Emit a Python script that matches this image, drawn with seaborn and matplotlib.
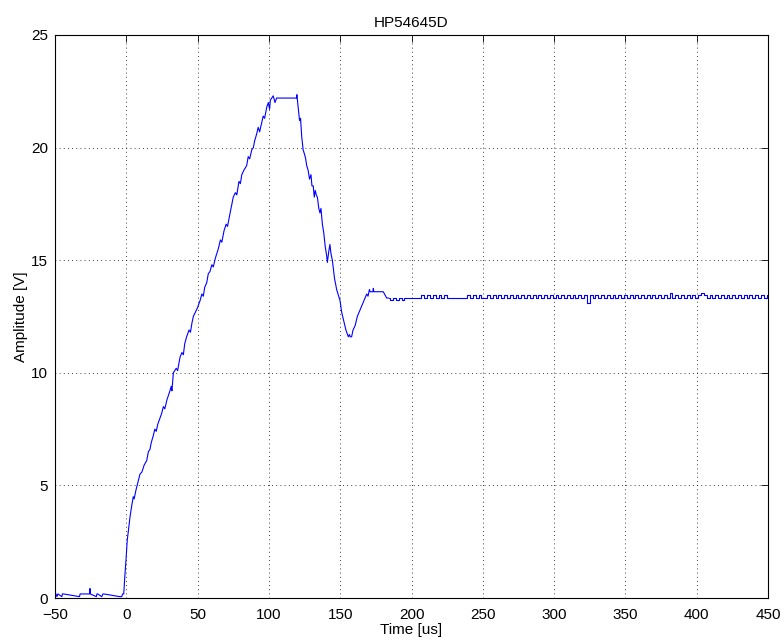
import numpy as np
import pandas as pd
import matplotlib
matplotlib.use("Agg")
import matplotlib.pyplot as plt
import seaborn as sns

# ---- data ----
baseline_t = [-50, -49.3, -48.6, -48, -45.2, -44.8, -44, -32.8, -32.4, -31.8, -25.8, -25.5, -25.2,
              -21, -20.6, -20, -17.2, -16.4, -15.8, -4.5, -3.2, -2.6, -1.8]
baseline_v = [0.06, 0.18, 0.06, 0.18, 0.06, 0.18, 0.18, 0.06, 0.18, 0.18, 0.18, 0.42, 0.18,
              0.06, 0.18, 0.18, 0.06, 0.18, 0.18, 0.06, 0.06, 0.18, 0.18]

ramp_t = [-1.0, -0.2, 0.7, 1.5, 2.6, 3.8, 4.9, 5.5, 6.8, 8.0, 9.6, 11, 12.5, 14.3, 15.5, 16.6, 17.5,
          18.9, 20, 21, 22, 23.1, 24.8, 26, 27, 28.5, 30.6, 31.5, 32, 33, 35, 36, 37.7, 39, 40, 41,
          42.3, 44, 45, 46, 47, 48.5, 50, 51.7, 53, 54, 55, 56.4, 57.5, 58.7, 60, 61, 62.5, 64.5,
          66, 67, 68.5, 70, 71, 72.5, 75, 76.5, 77.5, 79, 80, 81, 82.5, 84.4, 85.5, 86.5, 88, 89.1,
          90, 91.4, 92.5, 93.5, 94.9, 96, 97, 98.5, 99.6, 100.5, 101, 102, 103, 104.3, 105.4]
ramp_v = [1.0, 1.7, 2.6, 3.0, 3.6, 4.1, 4.5, 4.4, 4.8, 5.1, 5.5, 5.6, 5.9, 6.1, 6.5, 6.6, 6.9,
          7.2, 7.5, 7.4, 7.7, 7.9, 8.2, 8.5, 8.4, 8.8, 9.2, 9.4, 9.2, 10.0, 10.2, 10.1, 10.7, 10.9, 10.8, 11.3,
          11.6, 11.9, 11.8, 12.2, 12.5, 12.7, 12.9, 13.2, 13.5, 13.4, 13.8, 14.0, 14.4, 14.5, 14.8, 14.7, 15.1, 15.5,
          15.9, 15.8, 16.3, 16.6, 16.5, 17.0, 17.8, 18.0, 17.9, 18.5, 18.4, 18.8, 19.0, 19.2, 19.6, 19.5, 19.9, 20.0,
          20.3, 20.6, 20.9, 20.7, 21.1, 21.4, 21.3, 21.8, 22.0, 21.7, 22.1, 22.2, 22.3, 22.0, 22.2]

fall_t = [119.4, 119.6, 120.2, 120.6, 121.5, 122.2, 123, 124, 125, 125.8, 126.5, 127.5, 128.5, 129.5,
          130.2, 131.1, 131.8, 132.5, 133.2, 134, 135, 135.8, 136.5, 137.5, 138.5, 139.5, 140.5, 141,
          142, 142.8, 143.5, 144.5, 146, 147.5, 149.9, 151, 152.5, 154, 155.7, 156.5, 157, 158, 159,
          160.5, 162, 164, 166, 168.6, 169.5, 170.5, 171, 173, 173.2, 173.6, 180.2, 182.6, 184]
fall_v = [22.2, 22.35, 22.0, 21.8, 21.2, 21.3, 20.5, 19.9, 19.7, 19.5, 19.2, 19.0, 18.6, 18.8,
          18.3, 18.3, 17.8, 18.1, 17.9, 17.8, 17.3, 17.1, 17.3, 16.6, 16.2, 15.6, 15.2, 14.9,
          15.4, 15.7, 15.3, 15.0, 14.2, 13.7, 13.2, 12.7, 12.3, 11.9, 11.6, 11.7, 11.6, 11.6, 11.9,
          12.1, 12.5, 12.8, 13.1, 13.5, 13.4, 13.7, 13.6, 13.6, 13.75, 13.6, 13.6, 13.32, 13.32]

plateau_t = list(np.arange(184, 451, 2))
plateau_v = [13.32, 13.22, 13.32, 13.22, 13.32, 13.22, 13.32, 13.32, 13.32, 13.32,   # 184-202
             13.32, 13.32, 13.45, 13.32, 13.45, 13.32, 13.45, 13.32, 13.45, 13.32,   # 204-222
             13.45, 13.32, 13.32, 13.32, 13.32, 13.32, 13.32, 13.32, 13.45, 13.32,   # 224-242
             13.45, 13.32, 13.45, 13.32, 13.32, 13.45, 13.32, 13.45, 13.32, 13.45,   # 244-262
             13.32, 13.45, 13.32, 13.45, 13.32, 13.45, 13.32, 13.45, 13.32, 13.45,   # 264-282
             13.32, 13.45, 13.32, 13.45, 13.32, 13.45, 13.32, 13.45, 13.32, 13.45,   # 284-302
             13.32, 13.45, 13.32, 13.45, 13.32, 13.45, 13.32, 13.45, 13.32, 13.45,   # 304-322
             13.10, 13.45, 13.32, 13.45, 13.32, 13.45, 13.32, 13.45, 13.32, 13.45,   # 324-342
             13.32, 13.45, 13.32, 13.45, 13.32, 13.45, 13.32, 13.45, 13.32, 13.45,   # 344-362
             13.32, 13.45, 13.32, 13.45, 13.32, 13.45, 13.32, 13.45, 13.32, 13.55,   # 364-382
             13.32, 13.45, 13.32, 13.45, 13.32, 13.45, 13.32, 13.45, 13.32, 13.45,   # 384-402
             13.55, 13.45, 13.32, 13.45, 13.32, 13.45, 13.32, 13.45, 13.32, 13.45,   # 404-422
             13.32, 13.45, 13.32, 13.45, 13.32, 13.45, 13.32, 13.45, 13.32, 13.45,   # 424-442
             13.32, 13.45, 13.32, 13.45]                                             # 444-450

x_ticks = [-50, 0, 50, 100, 150, 200, 250, 300, 350, 400, 450]
y_ticks = [0, 5, 10, 15, 20, 25]

t_main = baseline_t + ramp_t + fall_t
v_main = baseline_v + ramp_v + fall_v
df_main = pd.DataFrame({"t": t_main, "v": v_main})
df_plat = pd.DataFrame({"t": plateau_t, "v": plateau_v})

sns.set_style("white")
plt.rcParams["font.family"] = ["Liberation Sans", "DejaVu Sans"]
plt.rcParams["text.color"] = "black"
plt.rcParams["axes.labelcolor"] = "black"

fig = plt.figure(figsize=(7.84, 6.42), dpi=100)
ax = fig.add_axes([55 / 784, 44 / 642, 713 / 784, 563 / 642])

sns.lineplot(data=df_main, x="t", y="v", sort=False, estimator=None, color=(0, 0, 1),
             linewidth=0.8, ax=ax)
sns.lineplot(data=df_plat, x="t", y="v", sort=False, estimator=None, color=(0, 0, 1),
             linewidth=0.8, drawstyle="steps-mid", ax=ax)

ax.set_xlim(-50, 450)
ax.set_ylim(0, 25)
ax.set_xticks(x_ticks)
ax.set_yticks(y_ticks)
ax.grid(True, linestyle=(0, (1, 4)), color="black", linewidth=0.6)
ax.tick_params(direction="in", length=5, width=0.6, top=True, right=True,
               labelsize=11, colors="black")
ax.tick_params(axis="x", pad=7)
ax.tick_params(axis="y", pad=5)
for s in ax.spines.values():
    s.set_visible(True)
    s.set_color("black")
    s.set_linewidth(0.8)
ax.set_xlabel("Time [us]", fontsize=11, labelpad=1, color="black")
ax.set_ylabel("Amplitude [V]", fontsize=11, labelpad=2, color="black")
ax.set_title("HP54645D", fontsize=11, pad=6, color="black")

fig.savefig("out.png", dpi=100)
